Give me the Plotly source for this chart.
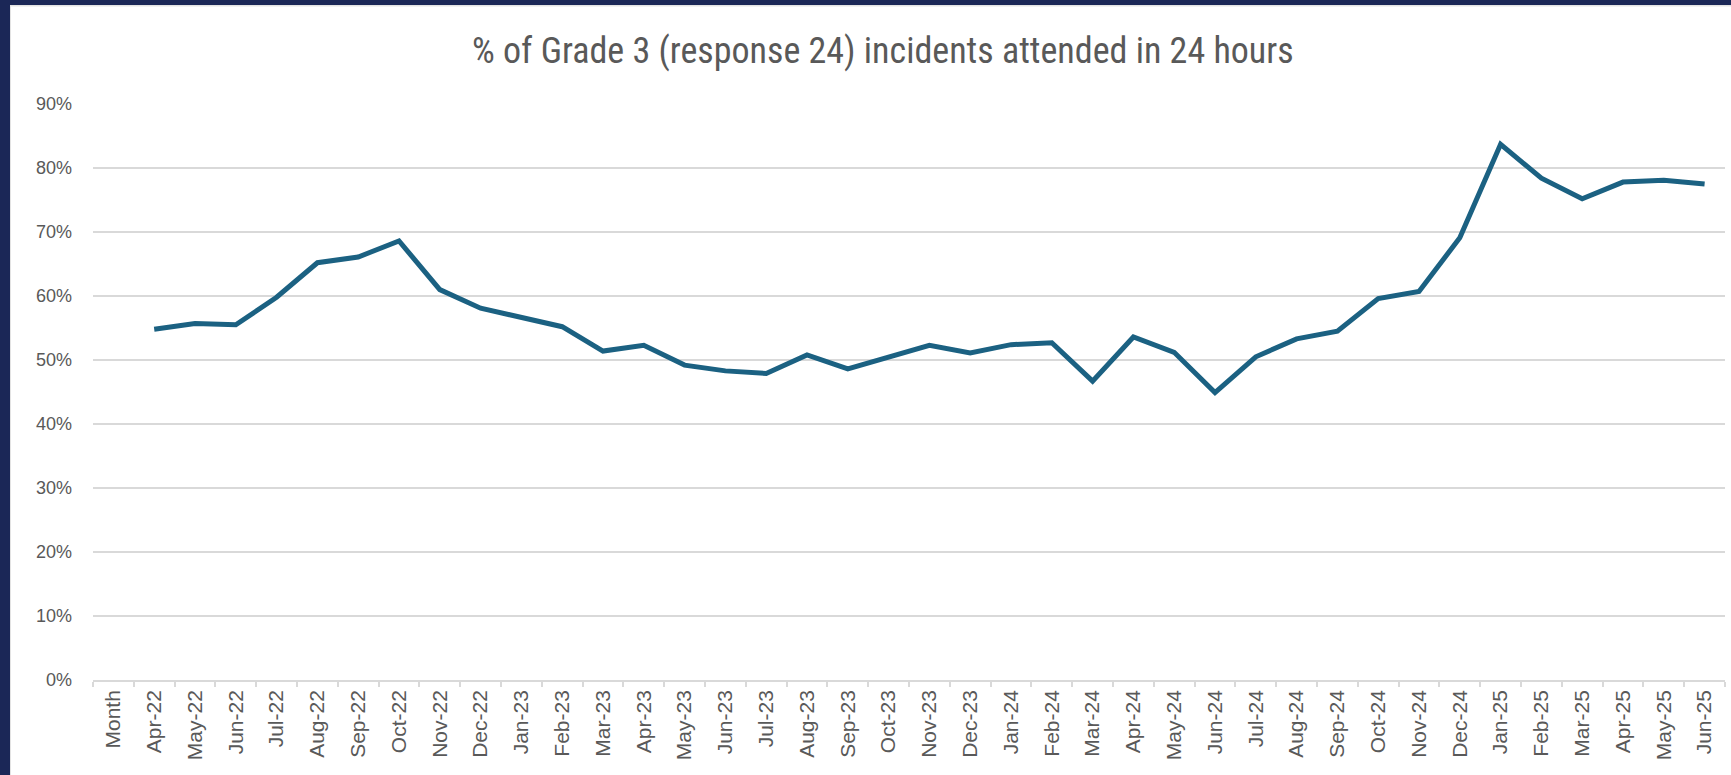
import plotly.graph_objects as go

months = ["Month", "Apr-22", "May-22", "Jun-22", "Jul-22", "Aug-22", "Sep-22", "Oct-22",
          "Nov-22", "Dec-22", "Jan-23", "Feb-23", "Mar-23", "Apr-23", "May-23", "Jun-23",
          "Jul-23", "Aug-23", "Sep-23", "Oct-23", "Nov-23", "Dec-23", "Jan-24", "Feb-24",
          "Mar-24", "Apr-24", "May-24", "Jun-24", "Jul-24", "Aug-24", "Sep-24", "Oct-24",
          "Nov-24", "Dec-24", "Jan-25", "Feb-25", "Mar-25", "Apr-25", "May-25", "Jun-25"]

pct_attended = [None, 0.548, 0.557, 0.555, 0.598, 0.652, 0.661, 0.686,
                0.610, 0.581, 0.567, 0.552, 0.514, 0.523, 0.492, 0.483,
                0.479, 0.508, 0.486, 0.505, 0.523, 0.511, 0.524, 0.527,
                0.467, 0.536, 0.512, 0.449, 0.505, 0.533, 0.545, 0.596,
                0.607, 0.691, 0.837, 0.784, 0.752, 0.778, 0.781, 0.775]

y_ticks = [0, 0.1, 0.2, 0.3, 0.4, 0.5, 0.6, 0.7, 0.8, 0.9]

title_text = "% of Grade 3 (response 24) incidents attended in 24 hours"

NAVY = "#1b2757"
GRID = "#d9d9d9"
TXT = "#595959"

fig = go.Figure()
fig.add_trace(go.Scatter(
    x=months, y=pct_attended, mode="lines",
    line=dict(color="#1b6182", width=5),
    connectgaps=False, showlegend=False,
    hovertemplate="%{x}: %{y:.1%}<extra></extra>",
))

W, H = 1731, 775
L, R, T, B = 93, 6, 104, 95
pw, ph = W - L - R, H - T - B

def px_x(px):
    return (px - L) / pw

def px_y(py):
    return (H - B - py) / ph

# light chart-area edge just inside the frame
fig.add_shape(type="rect", xref="paper", yref="paper",
              x0=px_x(10), x1=px_x(W + 5), y0=px_y(H + 5), y1=px_y(5.5),
              fillcolor="rgba(0,0,0,0)", line=dict(color="#e3e3e3", width=2), layer="above")
# navy frame on the top and left edges of the picture
fig.add_shape(type="rect", xref="paper", yref="paper",
              x0=px_x(-2), x1=px_x(10), y0=px_y(H + 2), y1=px_y(-2),
              fillcolor=NAVY, line_width=0, layer="above")
fig.add_shape(type="rect", xref="paper", yref="paper",
              x0=px_x(-2), x1=px_x(W + 2), y0=px_y(5), y1=px_y(-2),
              fillcolor=NAVY, line_width=0, layer="above")

fig.update_layout(
    width=W, height=H,
    margin=dict(l=L, r=R, t=T, b=B),
    paper_bgcolor="white", plot_bgcolor="white",
    title=dict(text=title_text, x=0.51, xanchor="center", y=1 - 50 / H, yanchor="middle",
               font=dict(family="Liberation Sans Narrow, Arial Narrow, Roboto Condensed, Lato, sans-serif",
                         size=36, color=TXT)),
    xaxis=dict(
        type="category", categoryorder="array", categoryarray=months,
        range=[-0.5, len(months) - 0.5],
        tickangle=-90, tickson="boundaries",
        ticks="outside", ticklen=5, tickcolor=GRID, tickwidth=1.5,
        showline=True, linecolor=GRID, linewidth=1.5,
        showgrid=False, zeroline=False,
        tickfont=dict(family="Liberation Sans, Arial, sans-serif", size=21, color=TXT),
        fixedrange=True,
    ),
    yaxis=dict(
        range=[0, 0.9], tickvals=y_ticks, tickformat=".0%",
        showgrid=True, gridcolor=GRID, gridwidth=1.5,
        zeroline=False, showline=False, ticks="",
        ticklabelstandoff=20,
        tickfont=dict(family="Liberation Sans Narrow, Arial Narrow, Liberation Sans, Arial, sans-serif",
                      size=18, color=TXT),
        fixedrange=True,
    ),
)

fig.write_html("out.html",
               config={"displayModeBar": False},
               post_script="document.body.style.margin='0';document.body.style.padding='0';"
                           "document.body.style.overflow='hidden';")
